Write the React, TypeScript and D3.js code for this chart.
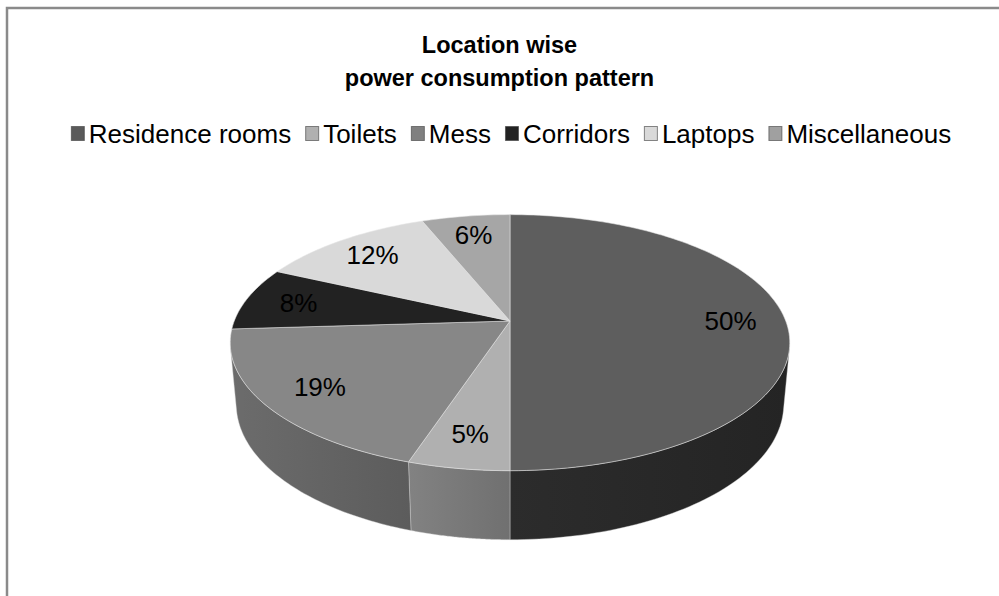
import React from 'react';
import * as d3 from 'd3';

const titleLines = ['Location wise', 'power consumption pattern'];
const categories = ['Residence rooms', 'Toilets', 'Mess', 'Corridors', 'Laptops', 'Miscellaneous'];
const values = [50, 5, 19, 8, 12, 6];
const topColors = ['#5e5e5e', '#b0b0b0', '#878787', '#222222', '#d9d9d9', '#a6a6a6'];
const sideColorsL = ['#2c2c2c', '#828282', '#6c6c6c', '#1a1a1a', '#bcbcbc', '#8a8a8a'];
const sideColorsR = ['#242424', '#707070', '#5c5c5c', '#151515', '#b0b0b0', '#808080'];
const legendColors = ['#5a5a5a', '#b0b0b0', '#808080', '#222222', '#d9d9d9', '#a0a0a0'];

const FONT = "'Liberation Sans', Arial, sans-serif";

// perspective projection of a unit disk
const CX = 510, CY = 321, K = 1456, D = 5.28, S = 0.451, C = 0.893, H = 0.252;
function proj(a: number, r: number, h: number): [number, number] {
  const X = r * Math.sin(a);
  const Z = -r * Math.cos(a);
  const zc = D - Z * C + h * S;
  return [CX + (K * X) / zc, CY + (K * (Z * S + h * C)) / zc];
}
const visLimit = Math.acos(-1 / (D * C)); // wall visible where angle in (visLimit, 2pi - visLimit)

function measure(text: string, font: string) {
  const cv = document.createElement('canvas');
  const ctx = cv.getContext('2d')!;
  ctx.font = font;
  return ctx.measureText(text).width;
}

export default function App() {
  const arcs = d3.pie<number>().sort(null).value((d) => d).startAngle(0).endAngle(2 * Math.PI)(values);
  const total = d3.sum(values);

  const walls: any[] = [];
  arcs.forEach((a, i) => {
    const lo = Math.max(a.startAngle, visLimit);
    const hi = Math.min(a.endAngle, 2 * Math.PI - visLimit);
    if (hi <= lo) return;
    const n = 60;
    const ts = d3.range(n + 1).map((k) => lo + ((hi - lo) * k) / n);
    const topPts = ts.map((t) => proj(t, 1, 0));
    const botPts = ts.slice().reverse().map((t) => proj(t, 1, H));
    const pts = topPts.concat(botPts);
    const xs = pts.map((p) => p[0]);
    walls.push({ i, d: 'M' + pts.map((p) => p.join(',')).join('L') + 'Z', x1: d3.min(xs), x2: d3.max(xs) });
  });

  const tops = arcs.map((a, i) => {
    const n = Math.max(8, Math.ceil((a.endAngle - a.startAngle) * 40));
    const pts = d3.range(n + 1).map((k) => proj(a.startAngle + ((a.endAngle - a.startAngle) * k) / n, 1, 0));
    const c = proj(0, 0, 0);
    return 'M' + c.join(',') + 'L' + pts.map((p) => p.join(',')).join('L') + 'Z';
  });

  const labels = arcs.map((a, i) => {
    const mid = (a.startAngle + a.endAngle) / 2;
    const [x, y] = proj(mid, 0.8, 0);
    return { x, y, text: Math.round((values[i] / total) * 100) + '%' };
  });

  // legend layout
  const legendSize = 26;
  const legendFont = `${legendSize}px ${FONT}`;
  const sw = 14, gap1 = 4, gap2 = 14;
  const widths = categories.map((c) => measure(c, legendFont));
  const totalW = d3.sum(widths) + categories.length * (sw + gap1) + (categories.length - 1) * gap2;
  let lx = 511 - totalW / 2;
  const legendItems = categories.map((c, i) => {
    const item = { x: lx, w: widths[i], c, i };
    lx += sw + gap1 + widths[i] + gap2;
    return item;
  });

  return (
    <svg width={999} height={596} style={{ position: 'absolute', left: 0, top: 0, background: '#fff' }}>
      <defs>
        {walls.map((w) => (
          <linearGradient key={w.i} id={'wg' + w.i} gradientUnits="userSpaceOnUse" x1={w.x1} x2={w.x2} y1={0} y2={0}>
            <stop offset="0%" stopColor={sideColorsL[w.i]} />
            <stop offset="100%" stopColor={sideColorsR[w.i]} />
          </linearGradient>
        ))}
      </defs>
      <path d="M7,600 L7,8 L1005,8" fill="none" stroke="#8a8a8a" strokeWidth={2.5} />
      {titleLines.map((t, i) => (
        <text key={t} x={499.5} y={53 + i * 33} textAnchor="middle" fontFamily={FONT} fontWeight="bold" fontSize={23.5} fill="#000">
          {t}
        </text>
      ))}
      {legendItems.map((it) => (
        <g key={it.c}>
          <rect x={it.x + 0.5} y={126.5} width={sw - 1} height={14} fill={legendColors[it.i]} stroke="#3c3c3c" strokeWidth={1} strokeOpacity={0.6} />
          <text x={it.x + sw + gap1} y={142.5} fontFamily={FONT} fontSize={legendSize} fill="#000">
            {it.c}
          </text>
        </g>
      ))}
      {walls.map((w) => (
        <path key={'w' + w.i} d={w.d} fill={`url(#wg${w.i})`} stroke="#d8d8d8" strokeOpacity={0.5} strokeWidth={0.8} />
      ))}
      {tops.map((d, i) => (
        <path key={'t' + i} d={d} fill={topColors[i]} stroke="#e6e6e6" strokeOpacity={0.55} strokeWidth={1} />
      ))}
      {labels.map((l) => (
        <text key={l.text} x={l.x} y={l.y} textAnchor="middle" dominantBaseline="central" fontFamily={FONT} fontSize={26} fill="#000">
          {l.text}
        </text>
      ))}
    </svg>
  );
}
